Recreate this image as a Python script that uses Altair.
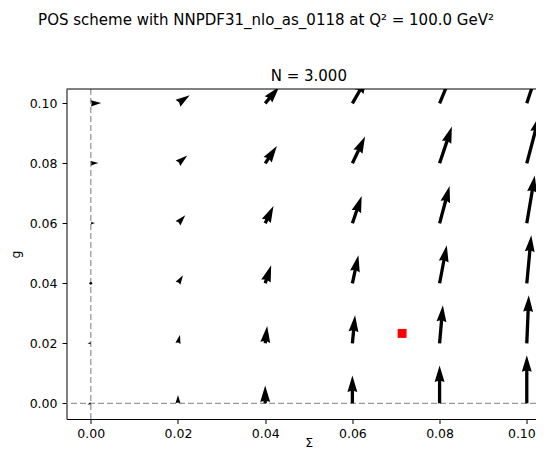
import math
import altair as alt
import pandas as pd

# ---------------- data ----------------
sigma_grid = [0.00, 0.02, 0.04, 0.06, 0.08, 0.10]
g_grid = [0.00, 0.02, 0.04, 0.06, 0.08, 0.10]

# arrow components (display units, quiver style), one list per Σ column, indexed by g
arrow_u = [
    [-3.3, -3.3, 1.0, 4.3, 7.6, 10.5],
    [0.0, 2.0, 5.0, 7.3, 9.3, 11.7],
    [0.0, 2.0, 6.0, 8.3, 11.7, 14.0],
    [0.0, 2.7, 6.0, 9.3, 12.7, 15.0],
    [0.0, 3.3, 7.2, 10.0, 12.3, 15.0],
    [0.0, 2.0, 4.5, 8.0, 12.5, 15.5],
]
arrow_v = [
    [-1.2, 0.0, 0.2, 0.3, 0.4, 0.4],
    [8.3, 8.5, 8.0, 8.0, 7.7, 8.0],
    [17.7, 17.3, 18.0, 17.3, 17.3, 16.5],
    [27.7, 28.0, 28.0, 27.3, 26.7, 26.0],
    [37.7, 38.0, 38.0, 37.3, 36.7, 36.0],
    [48.0, 48.0, 48.0, 47.7, 47.3, 47.0],
]

point_sigma = [0.0714]
point_g = [0.0233]

x_ticks = [0.00, 0.02, 0.04, 0.06, 0.08, 0.10]
y_ticks = [0.00, 0.02, 0.04, 0.06, 0.08, 0.10]

suptitle = "POS scheme with NNPDF31_nlo_as_0118 at Q\u00b2 = 100.0 GeV\u00b2"
panel_title = "N = 3.000"

# ---------------- layout ----------------
SX = 4360.0   # px per unit along Σ
SY = 3000.0   # px per unit along g
W, H = 469.5, 330
XMIN = -0.00557
XMAX = XMIN + W / SX
YMIN, YMAX = -0.00523, 0.10477
sx = W / (XMAX - XMIN)
sy = H / (YMAX - YMIN)

WIDTH_UNIT = 3.3
HEAD_LEN = 5 * WIDTH_UNIT
HEAD_AXIS = 4.5 * WIDTH_UNIT
MIN_LEN = 1.0 * WIDTH_UNIT
HEAD_PATH = "M0,0L-0.3,1L0,0.9L0.3,1Z"
FONT = "DejaVu Sans"

shafts, heads, dots = [], [], []
for i, s in enumerate(sigma_grid):
    for j, g in enumerate(g_grid):
        u, v = arrow_u[i][j], arrow_v[i][j]
        L = math.hypot(u, v)
        if L < MIN_LEN:
            dots.append({"x": s, "y": g})
            continue
        dx, dy = u / L, v / L
        ang = math.degrees(math.atan2(u, v)) % 360
        tip_x, tip_y = s + u / sx, g + v / sy
        if L > HEAD_LEN:
            size = (2 * HEAD_LEN) ** 2
            sl = L - HEAD_AXIS + 0.6
            shafts.append({"x": s, "y": g, "x2": s + dx * sl / sx, "y2": g + dy * sl / sy})
        else:
            size = (2 * L) ** 2
        heads.append({"x": tip_x, "y": tip_y, "size": size, "angle": ang})

df_shaft = pd.DataFrame(shafts)
df_head = pd.DataFrame(heads)
df_dot = pd.DataFrame(dots)
df_pt = pd.DataFrame({"x": point_sigma, "y": point_g})
df_zero = pd.DataFrame({"v": [0.0]})
df_one = pd.DataFrame({"a": [0]})

xscale = alt.Scale(domain=[XMIN, XMAX], nice=False, zero=False)
yscale = alt.Scale(domain=[YMIN, YMAX], nice=False, zero=False)

common_axis = dict(
    grid=False, tickSize=4.5, tickColor="black", tickWidth=1,
    domainColor="black", domainWidth=1, labelColor="black",
    labelFont=FONT, labelFontSize=12.5, titleFont=FONT, titleFontSize=12.5,
    titleFontWeight="normal", titleColor="black", labelOverlap=False,
    format=".2f",
)
xaxis = alt.Axis(values=x_ticks, title="\u03a3", labelPadding=3.5,
                 labelFlush=12, labelFlushOffset=8.5,
                 titleX=242.3, titleY=27, titleAlign="center",
                 titleBaseline="alphabetic", **common_axis)
yaxis = alt.Axis(values=y_ticks, title="g", labelPadding=5, labelFlush=False,
                 titleX=-51, titleY=165, titleAngle=270, titleAlign="center",
                 titleBaseline="middle", **common_axis)

vline = alt.Chart(df_zero).mark_rule(
    color="#999999", strokeWidth=1.3, strokeDash=[6, 3]
).encode(x=alt.X("v:Q", scale=xscale, axis=xaxis))
hline = alt.Chart(df_zero).mark_rule(
    color="#999999", strokeWidth=1.3, strokeDash=[6, 3]
).encode(y=alt.Y("v:Q", scale=yscale, axis=yaxis))

shaft = alt.Chart(df_shaft).mark_rule(
    color="black", strokeWidth=WIDTH_UNIT, strokeCap="butt", clip=True
).encode(x="x:Q", y="y:Q", x2="x2:Q", y2="y2:Q")

head = alt.Chart(df_head).mark_point(
    shape=HEAD_PATH, filled=True, color="black", opacity=1, strokeOpacity=0, clip=True
).encode(
    x="x:Q", y="y:Q",
    size=alt.Size("size:Q", scale=None, legend=None),
    angle=alt.Angle("angle:Q", scale=None),
)

dot = alt.Chart(df_dot).mark_circle(color="black", opacity=1, size=8).encode(
    x="x:Q", y="y:Q"
)

red = alt.Chart(df_pt).mark_square(color="red", opacity=1, size=80).encode(
    x="x:Q", y="y:Q"
)

top_spine = alt.Chart(df_one).mark_rule(color="black", strokeWidth=1).encode(
    y=alt.value(0)
)

t1 = alt.Chart(df_one).mark_text(
    text=suptitle, font=FONT, fontSize=15, align="center", baseline="alphabetic", color="black"
).encode(x=alt.value(199.5), y=alt.value(-64))
t2 = alt.Chart(df_one).mark_text(
    text=panel_title, font=FONT, fontSize=15, align="center", baseline="alphabetic", color="black"
).encode(x=alt.value(242.3), y=alt.value(-8))

chart = alt.layer(vline, hline, shaft, head, dot, red, top_spine, t1, t2).properties(
    width=W, height=H,
    autosize=alt.AutoSizeParams(type="none"),
    padding={"left": 58.5, "top": 81, "right": 0, "bottom": 30},
).configure_view(strokeWidth=0).resolve_scale(x="shared", y="shared")

chart.save("out.html", embed_options={"renderer": "svg", "actions": False})
